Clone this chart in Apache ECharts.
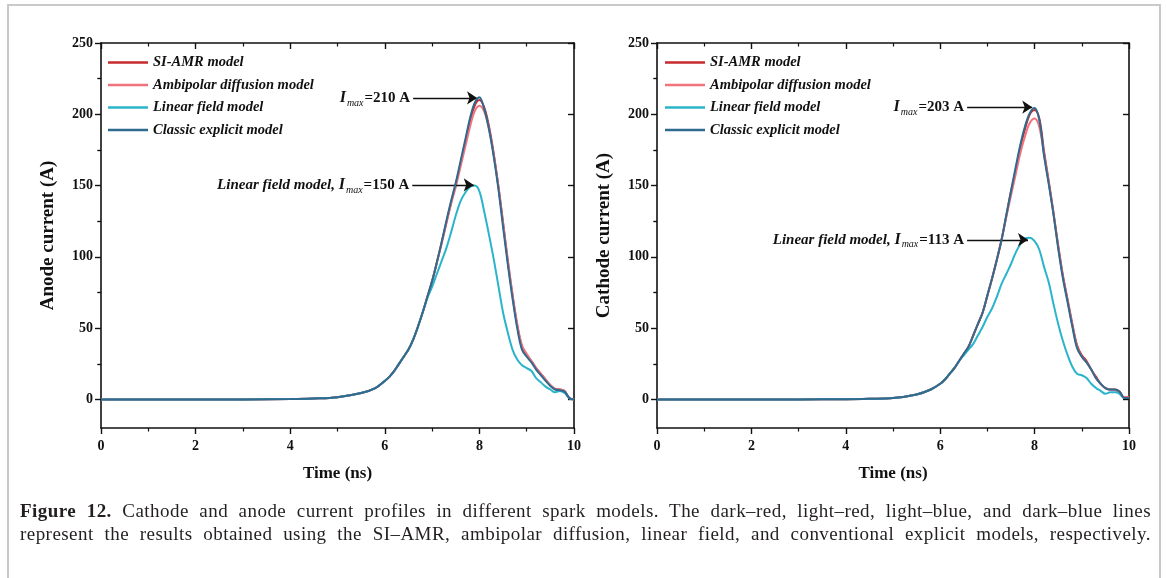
<!DOCTYPE html>
<html>
<head>
<meta charset="utf-8">
<script src="https://cdn.jsdelivr.net/npm/echarts@6/dist/echarts.min.js"></script>
<style>
  html, body { margin: 0; padding: 0; background: #fff; }
  #wrap { position: relative; width: 1167px; height: 578px; overflow: hidden; background: #fff; }
  #frame { position: absolute; left: 7px; top: 4px; width: 1154px; height: 600px; border: 2px solid #c9c9c9; border-bottom: none; box-sizing: border-box; }
  #chart { position: absolute; left: 0; top: 0; width: 1167px; height: 578px; }
  #caption { position: absolute; left: 20px; top: 499px; width: 1131px; font-family: 'Liberation Serif', 'Times New Roman', serif; font-size: 19px; letter-spacing: 0.45px; line-height: 23px; color: #231f20; text-align: justify; text-align-last: justify; white-space: nowrap; }
  #caption b { font-weight: bold; }
</style>
</head>
<body>
<div id="wrap">
  <div id="frame"></div>
  <div id="chart"></div>
  <div id="caption"><b>Figure 12.</b> Cathode and anode current profiles in different spark models. The dark–red, light–red, light–blue, and dark–blue lines<br>represent the results obtained using the SI–AMR, ambipolar diffusion, linear field, and conventional explicit models, respectively.</div>
</div>
<script>
// ---- data ----
const time = [0,1,2,3,4,4.5,5,5.5,5.8,
  6.0,6.1,6.2,6.3,6.4,6.5,6.6,6.7,6.8,6.9,
  7.0,7.1,7.2,7.3,7.4,7.5,7.6,7.7,7.8,7.9,
  8.0,8.1,8.2,8.3,8.4,8.5,8.6,8.7,8.8,8.9,
  9.0,9.1,9.2,9.3,9.4,9.5,9.6,9.7,9.8,9.9,10.0];

const seriesNames = ['SI-AMR model','Ambipolar diffusion model','Linear field model','Classic explicit model'];

// Anode current (A)
const anodeSIAMR = [0,0,0,0.05,0.3,0.7,1.6,4.5,8,
  13,16,20,25,30,35,42,51,61,72,
  83,96,110,124,138,151,165,180,195,206,
  210,205,192,173,150,124,97,73,52,37,
  31,27,22,18,14,10,7.5,7,6,1,0];
const anodeAmbipolar = [0,0,0,0.05,0.3,0.7,1.6,4.5,8,
  13,16,20,25,30,35,42,51,61,72,
  83,96,109,123,137,149,163,177,191,202,
  206,202,190,172,150,124,98,74,53,38,
  32,27,22,18,14,10,7.5,7,6,1,0];
const anodeLinear = [0,0,0,0.05,0.3,0.7,1.6,4.5,8,
  13,16,20,25,30,35,42,51,61,71,
  79,88,97,106,117,129,139,145,149,150,
  146,132,116,99,80,61,47,35,28,24,
  22,20,15,12,9,7,5,6,4.5,1,0];
const anodeClassic = [0,0,0,0.05,0.3,0.7,1.6,4.5,8,
  13,16,20,25,30,35,42,51,61,72,
  83,96,110,125,139,152,167,182,197,208,
  212,204,190,171,148,121,95,71,50,35,
  30,26,21,17,13,9.5,7,6.5,5.5,1,0];

// Cathode current (A)
const cathodeSIAMR = [0,0,0,0.05,0.2,0.5,1,3.5,7,
  11,14,18,22,27,32,37,45,53,61,
  73,85,98,112,129,146,161,177,190,200,
  203,197,174,153,131,108,87,70,53,38,
  31,27,21,16,11,8,7,7,5.5,1.5,1.5];
const cathodeAmbipolar = [0,0,0,0.05,0.2,0.5,1,3.5,7,
  11,14,18,22,27,32,37,45,53,61,
  73,85,98,112,128,143,158,173,185,194,
  197,191,172,152,130,107,86,69,52,37,
  30,26,21,15,11,8,7,6.5,5,1.5,1.5];
const cathodeLinear = [0,0,0,0.05,0.2,0.5,1,3.5,7,
  11,14,18,22,27,31,35,39,45,51,
  58,64,72,81,88,95,103,109,113,113.5,
  111,105,93,82,67,53,41,31,23,18,
  17,15,11,8,6,4,5,5,4,1,1];
const cathodeClassic = [0,0,0,0.05,0.2,0.5,1,3.5,7,
  11,14,18,22,27,32,37,45,53,61,
  73,85,98,112,129,146,163,179,192,201,
  204.5,196,171,151,130,106,85,68,51,36,
  30,26,21,15,11,8,7,7,5.5,1,1];

const xTicks = [0,2,4,6,8,10];
const yMajor = [0,50,100,150,200,250];
const yMinor = [25,75,125,175,225];

// annotations: [label, startTime, endTime, value]
const anodePeakNote = ['210', 6.6, 7.95, 211.5];
const anodeLinearNote = ['150', 6.58, 7.88, 150.5];
const cathodePeakNote = ['203', 6.57, 7.95, 205];
const cathodeLinearNote = ['113', 6.57, 7.86, 112];

// ---- chart ----
const FONT = "'Liberation Serif', 'Times New Roman', serif";
const colors = ['#c62a2f', '#f2737c', '#2ab4cb', '#2f6b8f'];
const chart = echarts.init(document.getElementById('chart'), null, {renderer: 'canvas'});

const grids = [
  {left: 101, top: 43, width: 473, height: 385},
  {left: 657, top: 43, width: 472, height: 385}
];
const yNames = ['Anode current (A)', 'Cathode current (A)'];

const xAxes = [], yAxes = [];
const axisLine = {show: true, onZero: false, lineStyle: {color: '#111', width: 1.6}};
grids.forEach((g, gi) => {
  xAxes.push({
    gridIndex: gi, type: 'value', position: 'bottom', min: 0, max: 10, interval: 2,
    axisLine, splitLine: {show: false},
    axisTick: {show: true, inside: false, length: 6, lineStyle: {color: '#111', width: 1.4}},
    minorTick: {show: true, splitNumber: 2, length: 3.5, lineStyle: {color: '#111', width: 1.2}},
    axisLabel: {show: true, margin: 11, color: '#111', fontFamily: FONT, fontWeight: 'bold', fontSize: 14,
      customValues: xTicks},
    name: 'Time (ns)', nameLocation: 'middle', nameGap: 37,
    nameTextStyle: {fontFamily: FONT, fontWeight: 'bold', fontSize: 17, color: '#111'}
  });
  xAxes.push({
    gridIndex: gi, type: 'value', position: 'top', min: 0, max: 10, interval: 2,
    axisLine, splitLine: {show: false},
    axisTick: {show: true, inside: true, length: 6, lineStyle: {color: '#111', width: 1.4}},
    minorTick: {show: true, splitNumber: 2, length: 3.5, lineStyle: {color: '#111', width: 1.2}},
    axisLabel: {show: false}
  });
  // left major
  yAxes.push({
    gridIndex: gi, type: 'value', position: 'left', min: -20, max: 250,
    axisLine, splitLine: {show: false},
    axisTick: {show: true, inside: false, length: 6, customValues: yMajor, lineStyle: {color: '#111', width: 1.4}},
    axisLabel: {show: true, margin: 8, customValues: yMajor, color: '#111', fontFamily: FONT, fontWeight: 'bold', fontSize: 14},
    name: yNames[gi], nameLocation: 'middle', nameGap: 43,
    nameTextStyle: {fontFamily: FONT, fontWeight: 'bold', fontSize: 19, color: '#111'}
  });
  // left minor
  yAxes.push({
    gridIndex: gi, type: 'value', position: 'left', min: -20, max: 250,
    axisLine: {show: false}, splitLine: {show: false},
    axisTick: {show: true, inside: false, length: 3.5, customValues: yMinor, lineStyle: {color: '#111', width: 1.2}},
    axisLabel: {show: false}
  });
  // right major
  yAxes.push({
    gridIndex: gi, type: 'value', position: 'right', min: -20, max: 250,
    axisLine, splitLine: {show: false},
    axisTick: {show: true, inside: true, length: 6, customValues: yMajor, lineStyle: {color: '#111', width: 1.4}},
    axisLabel: {show: false}
  });
  // right minor
  yAxes.push({
    gridIndex: gi, type: 'value', position: 'right', min: -20, max: 250,
    axisLine: {show: false}, splitLine: {show: false},
    axisTick: {show: true, inside: true, length: 3.5, customValues: yMinor, lineStyle: {color: '#111', width: 1.2}},
    axisLabel: {show: false}
  });
});

const rich = {
  it: {fontFamily: FONT, fontStyle: 'italic', fontWeight: 'bold', fontSize: 15, color: '#111'},
  i: {fontFamily: FONT, fontStyle: 'italic', fontWeight: 'bold', fontSize: 16, color: '#111'},
  s: {fontFamily: FONT, fontStyle: 'italic', fontSize: 10, color: '#111', padding: [10, 1, 0, 1]},
  b: {fontFamily: FONT, fontWeight: 'bold', fontSize: 15, color: '#111'}
};

function note(n, prefix) {
  return {
    silent: true, animation: false,
    symbol: ['none', 'arrow'], symbolSize: 10,
    lineStyle: {color: '#111', width: 1.4, type: 'solid'},
    label: {show: true, position: 'start', distance: 3,
      formatter: (prefix ? '{it|' + prefix + '}' : '') + '{i|I}{s|max}{b|=' + n[0] + ' A}', rich},
    data: [[{coord: [n[1], n[3]]}, {coord: [n[2], n[3]]}]]
  };
}

const dataSets = [
  [anodeSIAMR, anodeAmbipolar, anodeLinear, anodeClassic],
  [cathodeSIAMR, cathodeAmbipolar, cathodeLinear, cathodeClassic]
];
const notes = [[anodePeakNote, anodeLinearNote], [cathodePeakNote, cathodeLinearNote]];

const series = [];
dataSets.forEach((set, gi) => {
  set.forEach((vals, si) => {
    const s = {
      name: seriesNames[si], type: 'line', xAxisIndex: gi * 2, yAxisIndex: gi * 4,
      data: time.map((t, k) => [t, vals[k]]),
      symbol: 'none', smooth: 0.35, z: 2 + si,
      lineStyle: {color: colors[si], width: 2}, itemStyle: {color: colors[si]},
      animation: false
    };
    if (si === 3) s.markLine = note(notes[gi][0], '');
    if (si === 2) s.markLine = note(notes[gi][1], 'Linear field model, ');
    series.push(s);
  });
});

const legendBase = {
  orient: 'vertical', icon: 'rect', itemWidth: 40, itemHeight: 2.5, itemGap: 7.5, padding: 0,
  data: seriesNames, selectedMode: false,
  textStyle: {fontFamily: FONT, fontStyle: 'italic', fontWeight: 'bold', fontSize: 14.5, color: '#111'}
};

chart.setOption({
  backgroundColor: 'transparent',
  animation: false,
  grid: grids,
  xAxis: xAxes,
  yAxis: yAxes,
  legend: [
    Object.assign({left: 108, top: 55}, legendBase),
    Object.assign({left: 665, top: 55}, legendBase)
  ],
  series
});
</script>
</body>
</html>
